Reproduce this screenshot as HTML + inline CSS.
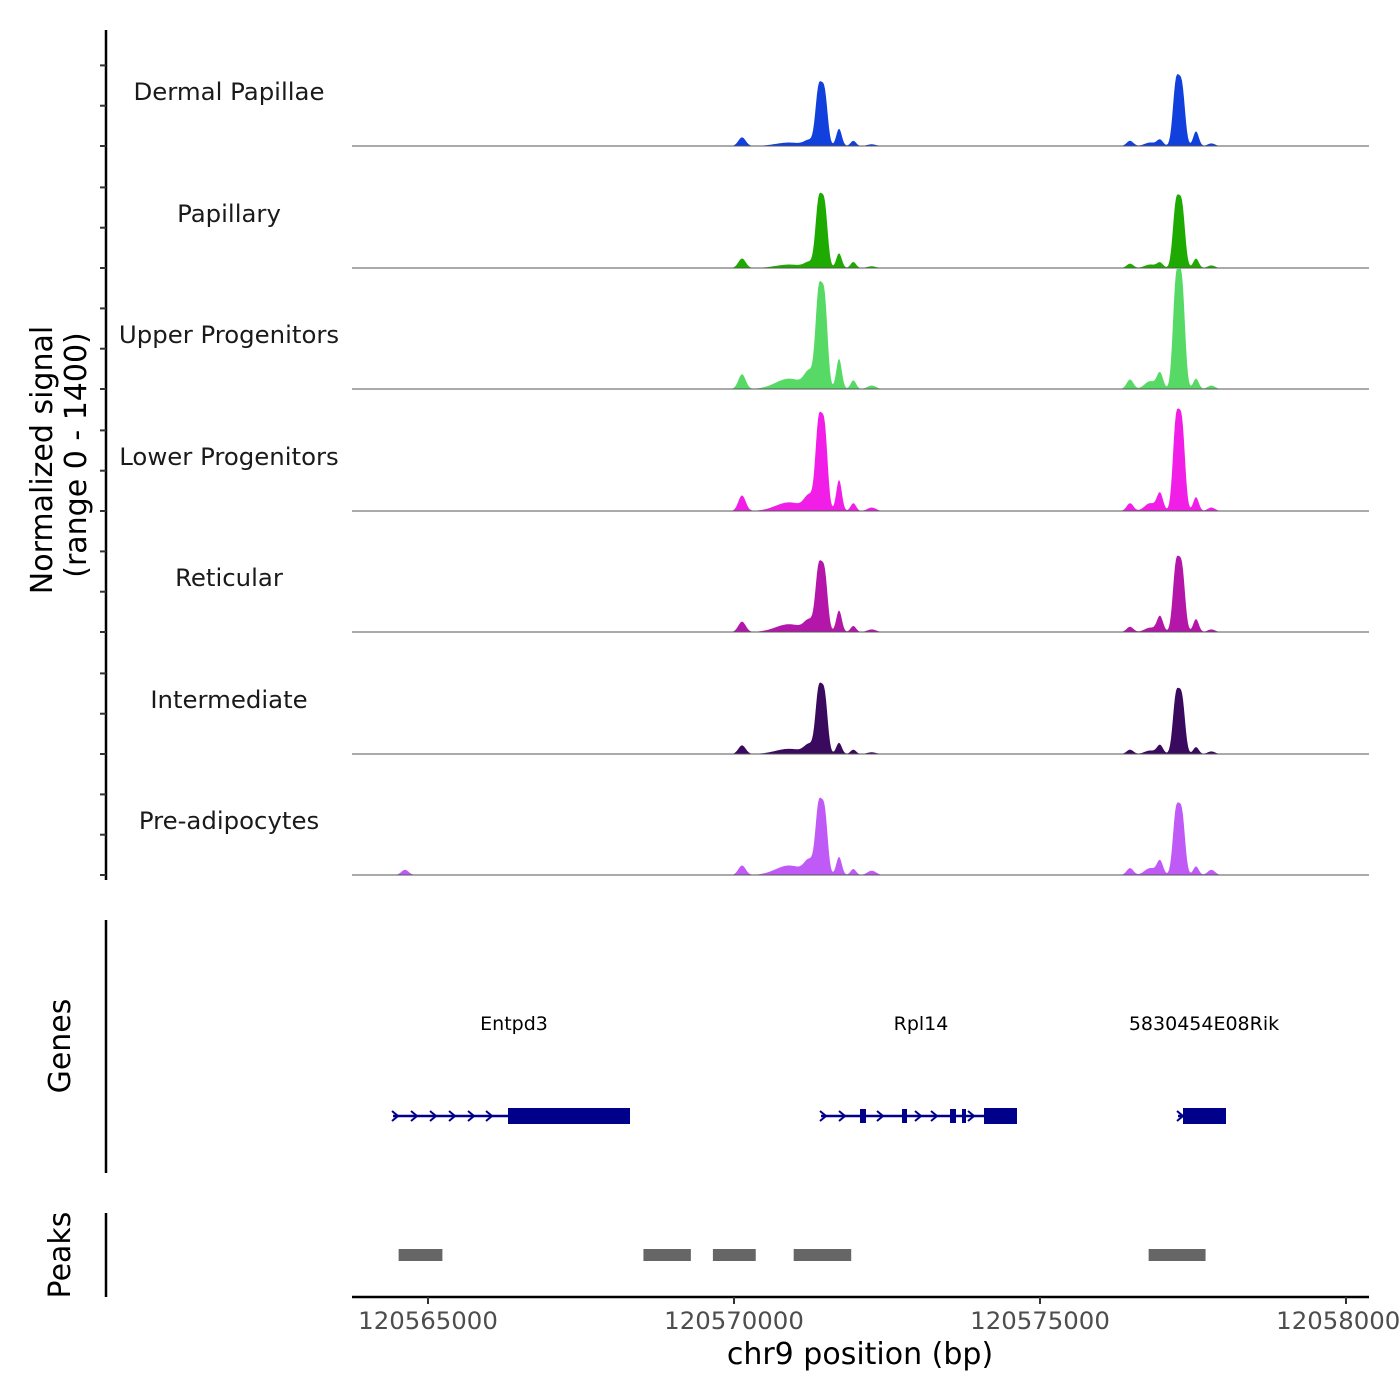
<!DOCTYPE html>
<html><head><meta charset="utf-8">
<style>
html,body{margin:0;padding:0;background:#fff;}
svg{display:block;font-family:"DejaVu Sans","Liberation Sans",sans-serif;}
</style></head>
<body>
<svg id="chart" width="1400" height="1400" viewBox="0 0 1400 1400">
<g id="tracks"></g>
<line x1="106" y1="30" x2="106" y2="880" stroke="#000" stroke-width="2.5"/>
<g id="yticks"></g>
<text transform="translate(52,460) rotate(-90)" text-anchor="middle" font-size="30">Normalized signal</text>
<text transform="translate(86,455) rotate(-90)" text-anchor="middle" font-size="30">(range 0 - 1400)</text>

<line x1="106" y1="920" x2="106" y2="1173" stroke="#000" stroke-width="2.5"/>
<text transform="translate(70,1046) rotate(-90)" text-anchor="middle" font-size="30">Genes</text>
<g id="genes"></g>

<line x1="106" y1="1213" x2="106" y2="1297" stroke="#000" stroke-width="2.5"/>
<text transform="translate(70,1255) rotate(-90)" text-anchor="middle" font-size="30">Peaks</text>
<g id="peaks"></g>

<line x1="352" y1="1297" x2="1369" y2="1297" stroke="#000" stroke-width="2.5"/>
<g id="xticks"></g>
<text x="860" y="1364" text-anchor="middle" font-size="30">chr9 position (bp)</text>
</svg>
<script>
const NS="http://www.w3.org/2000/svg";
const trackNames=["Dermal Papillae","Papillary","Upper Progenitors","Lower Progenitors","Reticular","Intermediate","Pre-adipocytes"];
const trackColors=["#1240dc","#1eaa00","#57d966","#f01ee6","#b316a8","#3a0a5e","#c05af7"];
const peakPos=[120564624,120570131,120570900,120571230,120571380,120571480,120571716,120571950,120572250,120576471,120576800,120576961,120577220,120577320,120577549,120577800];
const peakSd=[60,60,220,80,50,50,45,45,70,55,90,50,50,50,45,60];
const heights=[
 [0,100,40,60,620,600,200,60,20,60,40,70,700,660,170,30],
 [0,110,40,60,720,700,170,70,20,50,40,60,710,690,110,30],
 [0,170,120,180,1020,1000,350,100,40,110,90,180,1180,1160,120,40],
 [0,180,100,160,940,920,360,90,40,90,90,200,990,960,160,40],
 [0,120,90,120,680,660,250,70,30,60,50,180,740,710,150,30],
 [0,100,60,100,680,660,130,50,20,50,40,100,640,620,80,30],
 [60,110,110,150,730,710,210,70,50,80,80,160,700,680,100,60]
];
const xStart=120563758, xEnd=120580376;
const x=bp=>352+(bp-xStart)*0.0612;
const baselines=[146,268,389,511,632,754,875];
const ymax=1400, trackH=121;
const xTicks=[120565000,120570000,120575000,120580000];
const peakRegions=[[120564520,120565235],[120568520,120569295],[120569655,120570355],[120570975,120571915],[120576775,120577705]];

const tracks=document.getElementById('tracks');
trackNames.forEach((name,t)=>{
  const b=baselines[t];
  const g=document.createElementNS(NS,'g');
  
  
  let d='M352,'+b;
  for(let px=352;px<=1369;px+=1){
    const bp=xStart+(px-352)/0.0612;
    let v=0;
    for(let k=0;k<peakPos.length;k++){const z=(bp-peakPos[k])/peakSd[k];v+=heights[t][k]*Math.exp(-0.5*z*z);}
    v=Math.min(v,ymax);
    d+=' L'+px+','+(b-v/ymax*trackH).toFixed(2);
  }
  d+=' L1369,'+b+' Z';
  const p=document.createElementNS(NS,'path');
  p.setAttribute('d',d);p.setAttribute('fill',trackColors[t]);
  
  
  g.appendChild(p);
  const l=document.createElementNS(NS,'line');
  l.setAttribute('x1',352);l.setAttribute('x2',1369);l.setAttribute('y1',b);l.setAttribute('y2',b);
  l.setAttribute('stroke','#555');l.setAttribute('stroke-width','1');
  
  
  g.appendChild(l);
  const tx=document.createElementNS(NS,'text');
  tx.setAttribute('x',229);tx.setAttribute('y',b-46);tx.setAttribute('text-anchor','middle');
  tx.setAttribute('font-size','24.4');tx.setAttribute('fill','#1a1a1a');tx.textContent=name;
  
  
  g.appendChild(tx);
  tracks.appendChild(g);
});
const yt=document.getElementById('yticks');
baselines.forEach(b=>{
  for(let i=0;i<3;i++){
    const yy=b-i*40.3;
    const l=document.createElementNS(NS,'line');
    l.setAttribute('x1',100);l.setAttribute('x2',106);l.setAttribute('y1',yy);l.setAttribute('y2',yy);
    l.setAttribute('stroke','#333');l.setAttribute('stroke-width','2');
    
    
    yt.appendChild(l);
  }
});
const xt=document.getElementById('xticks');
xTicks.forEach(v=>{
  const l=document.createElementNS(NS,'line');
  l.setAttribute('x1',x(v));l.setAttribute('x2',x(v));l.setAttribute('y1',1297);l.setAttribute('y2',1304);
  l.setAttribute('stroke','#333');l.setAttribute('stroke-width','2');
  
  
  xt.appendChild(l);
  const t=document.createElementNS(NS,'text');
  t.setAttribute('x',x(v));t.setAttribute('y',1329);t.setAttribute('text-anchor','middle');
  t.setAttribute('font-size','24.4');t.setAttribute('fill','#4d4d4d');t.textContent=v;
  
  
  xt.appendChild(t);
});
const pk=document.getElementById('peaks');
peakRegions.forEach(r=>{
  const rc=document.createElementNS(NS,'rect');
  rc.setAttribute('x',x(r[0]));rc.setAttribute('width',x(r[1])-x(r[0]));
  rc.setAttribute('y',1249);rc.setAttribute('height',12);rc.setAttribute('fill','#666');
  
  
  pk.appendChild(rc);
});
const gn=document.getElementById('genes');
const C='#00008b', GY=1116;
function add(tag,attrs,name){const e=document.createElementNS(NS,tag);for(const k in attrs)e.setAttribute(k,attrs[k]);
  
  
  gn.appendChild(e);return e;}
function gene(label,lx,x1,x2,exons,chev){
  add('line',{x1:x1,x2:x2,y1:GY,y2:GY,stroke:C,'stroke-width':2.5},'gene-line');
  exons.forEach(e=>add('rect',{x:e[0],y:GY-(e[2]||8),width:e[1]-e[0],height:2*(e[2]||8),fill:C},'gene-exon'));
  chev.forEach(c=>add('path',{d:`M${c-4},${GY-5} L${c+2},${GY} L${c-4},${GY+5}`,fill:'none',stroke:C,'stroke-width':2},'strand-arrow'));
  const t=add('text',{x:lx,y:1030,'text-anchor':'middle','font-size':19,fill:'#000'},'gene-label');t.textContent=label;
}
gene('Entpd3',514,393,630,[[508,630,8]],[396,415,434,453,472,490]);
gene('Rpl14',921,821,1017,[[860,866,7],[902,907,7],[950,956,7],[962,966,7],[984,1017,8]],[824,843,881,919,935,972]);
gene('5830454E08Rik',1204,1178,1226,[[1183,1226,8]],[1181]);
</script>
</body></html>
